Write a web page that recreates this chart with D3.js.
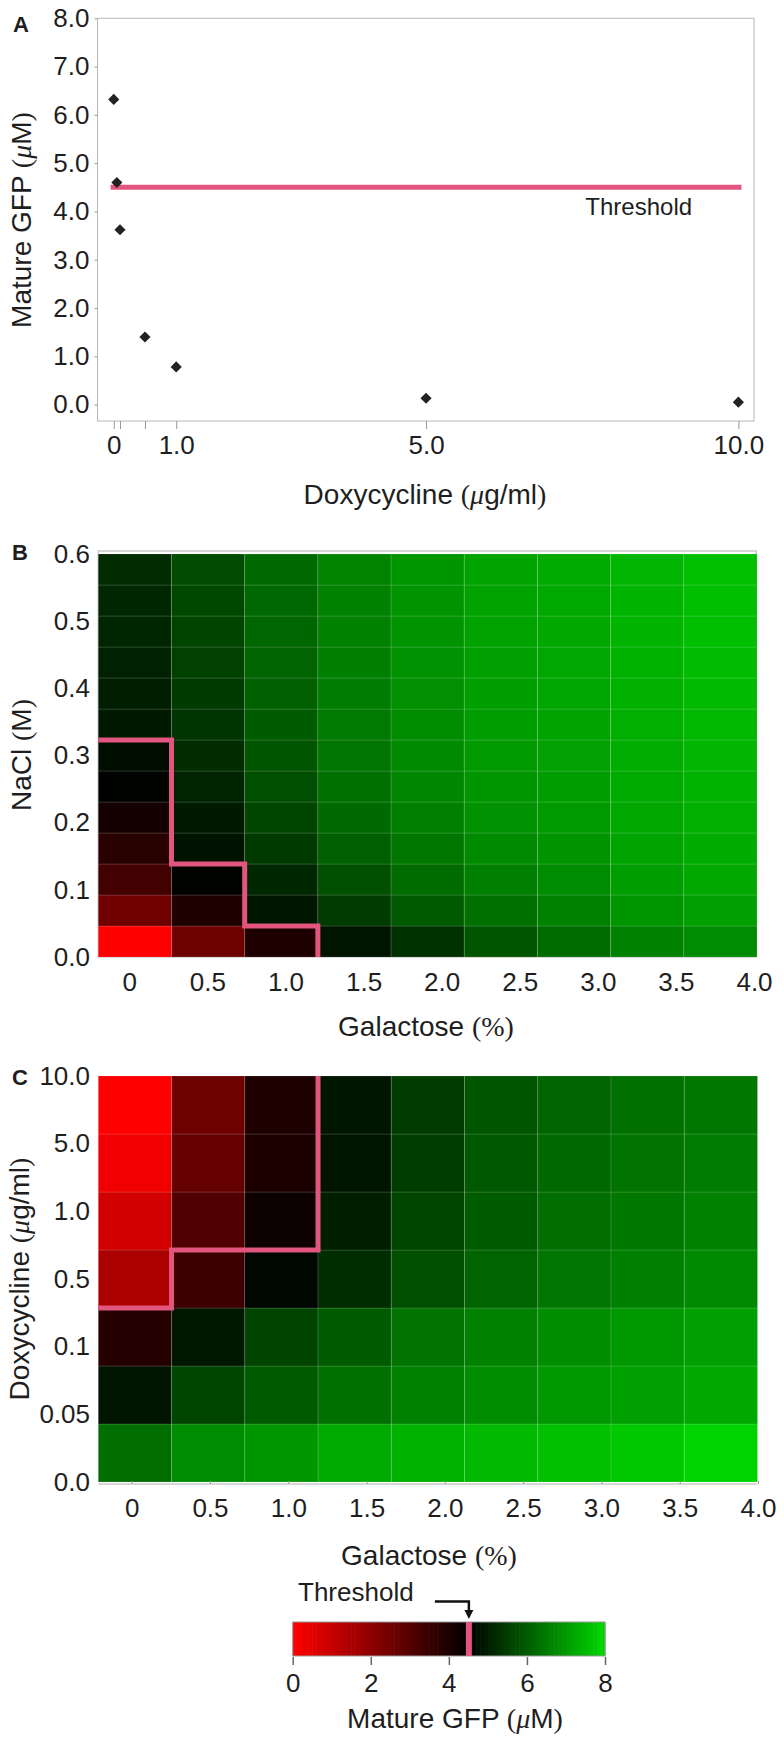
<!DOCTYPE html>
<html>
<head>
<meta charset="utf-8">
<script src="https://cdn.jsdelivr.net/npm/d3@7"></script>
<style>
body { margin: 0; background: #fff; }
svg text { font-family: "Liberation Sans", Arial, Helvetica, sans-serif; fill: #1e1e1e; }
</style>
</head>
<body>
<div id="chart"></div>
<script>
// panel A: mature GFP vs doxycycline
var doxA = [0, 0.05, 0.1, 0.5, 1.0, 5.0, 10.0];
var gfpA = [6.32, 4.60, 3.62, 1.40, 0.78, 0.13, 0.05];
var doxTicksA = [0, 0.1, 0.5, 1.0, 5.0, 10.0];
var doxLabelsA = ["0", "", "", "1.0", "5.0", "10.0"];
var gfpTicksA = [0, 1, 2, 3, 4, 5, 6, 7, 8];
var threshold = 4.5;

// panels B and C share the galactose axis
var galactose = [0, 0.5, 1.0, 1.5, 2.0, 2.5, 3.0, 3.5, 4.0];
var galLabels = ["0", "0.5", "1.0", "1.5", "2.0", "2.5", "3.0", "3.5", "4.0"];

// panel B: rows are NaCl (M), from 0.0 up to 0.6, columns are galactose
var nacl = [0, 0.05, 0.1, 0.15, 0.2, 0.25, 0.3, 0.35, 0.4, 0.45, 0.5, 0.55, 0.6];
var naclTicks = [0, 0.1, 0.2, 0.3, 0.4, 0.5, 0.6];
var gfpB = [
    [0.00, 2.56, 3.97, 4.82, 5.31, 5.88, 6.25, 6.61, 6.77],
    [2.52, 3.97, 4.86, 5.47, 5.96, 6.31, 6.61, 6.93, 7.09],
    [3.34, 4.53, 5.15, 5.80, 6.25, 6.57, 6.77, 7.06, 7.22],
    [3.79, 4.79, 5.44, 6.04, 6.44, 6.74, 6.90, 7.16, 7.29],
    [4.15, 4.92, 5.63, 6.20, 6.57, 6.87, 7.00, 7.22, 7.35],
    [4.53, 5.08, 5.76, 6.31, 6.67, 6.93, 7.06, 7.27, 7.40],
    [4.73, 5.21, 5.89, 6.41, 6.74, 7.00, 7.11, 7.30, 7.45],
    [4.92, 5.34, 5.99, 6.48, 6.80, 7.04, 7.16, 7.34, 7.48],
    [4.99, 5.44, 6.06, 6.53, 6.83, 7.08, 7.19, 7.37, 7.51],
    [5.05, 5.54, 6.12, 6.56, 6.87, 7.09, 7.21, 7.38, 7.55],
    [5.12, 5.60, 6.15, 6.59, 6.90, 7.12, 7.22, 7.42, 7.58],
    [5.15, 5.67, 6.18, 6.61, 6.91, 7.14, 7.24, 7.43, 7.59],
    [5.18, 5.73, 6.22, 6.64, 6.93, 7.16, 7.25, 7.45, 7.61]
];
// rows inside the threshold line per galactose column, counted from NaCl 0
var belowB = [7, 3, 1, 0, 0, 0, 0, 0, 0];

// panel C: rows are doxycycline (ug/ml), from 0.0 up to 10.0
var doxC = ["0.0", "0.05", "0.1", "0.5", "1.0", "5.0", "10.0"];
var gfpC = [
    [6.28, 6.77, 6.93, 7.25, 7.38, 7.50, 7.61, 7.74, 7.93],
    [4.82, 5.63, 5.96, 6.31, 6.61, 6.80, 6.96, 7.09, 7.22],
    [3.86, 4.89, 5.60, 5.96, 6.36, 6.61, 6.80, 6.96, 7.09],
    [1.50, 3.44, 4.60, 5.23, 5.80, 6.12, 6.41, 6.57, 6.74],
    [0.79, 3.09, 4.29, 4.99, 5.63, 5.99, 6.28, 6.44, 6.61],
    [0.26, 2.74, 4.01, 4.82, 5.50, 5.93, 6.20, 6.36, 6.53],
    [0.00, 2.56, 3.97, 4.86, 5.47, 5.88, 6.12, 6.31, 6.44]
];
// rows inside the threshold line per galactose column, counted from the top (10.0)
var belowC = [4, 3, 3, 0, 0, 0, 0, 0, 0];

var legendTicks = [0, 2, 4, 6, 8];

var serif = "'Liberation Serif', 'DejaVu Serif', serif";

function init(){

    var w = 784;
    var h = 1742;
    var pink = "#e2557f";

    var color = d3.scaleLinear()
                .domain([0, threshold, 8])
                .range(["#ff0000", "#000000", "#00d800"])
                .clamp(true);

    var svg = d3.select("#chart")
                .append("svg")
                .attr("width", w)
                .attr("height", h);

    svg.append("rect").attr("width", w).attr("height", h).attr("fill", "#fff");

    // axis text styling helper
    function styleAxis(g, size){
        g.attr("font-size", null).attr("font-family", null);
        g.selectAll("text").attr("font-size", size).attr("fill", "#1e1e1e");
        g.selectAll("line").attr("stroke", "#999");
    }

    // title made of pieces so the mu and brackets can use another face
    function title(x, y, rot, parts, size){
        var t = svg.append("text")
                .attr("transform", "translate(" + x + "," + y + ") rotate(" + rot + ")")
                .attr("text-anchor", "middle")
                .attr("dominant-baseline", "central")
                .attr("font-size", size);
        parts.forEach(function(p){
            var s = t.append("tspan").text(p[0]);
            if (p[1]) s.style("font-family", serif);
            if (p[2]) s.attr("font-style", "italic");
        });
    }

    function letter(txt, x, y){
        svg.append("text").attr("x", x).attr("y", y)
            .attr("dominant-baseline", "central")
            .attr("font-size", 22).attr("font-weight", "bold")
            .text(txt);
    }

    // ---------------- panel A ----------------
    var xA = d3.scaleLinear().domain([-0.26, 10.25]).range([97.5, 754]);
    var yA = d3.scaleLinear().domain([-0.34, 8]).range([421, 18.3]);

    svg.append("rect")
        .attr("x", xA.range()[0]).attr("y", yA.range()[1])
        .attr("width", xA.range()[1] - xA.range()[0])
        .attr("height", yA.range()[0] - yA.range()[1])
        .attr("fill", "none").attr("stroke", "#b8b8b8");

    svg.append("g")
        .attr("transform", "translate(" + xA.range()[0] + ",0)")
        .call(d3.axisLeft(yA).tickValues(gfpTicksA).tickFormat(d3.format(".1f")).tickSize(3).tickPadding(5))
        .call(function(g){ g.select(".domain").remove(); styleAxis(g, 26); });

    svg.append("g")
        .attr("transform", "translate(0," + yA.range()[0] + ")")
        .call(d3.axisBottom(xA).tickValues(doxTicksA).tickSize(8).tickPadding(7)
            .tickFormat(function(d, i){ return doxLabelsA[i]; }))
        .call(function(g){ g.select(".domain").remove(); styleAxis(g, 26); });

    svg.append("line")
        .attr("x1", xA(-0.05)).attr("x2", xA(10.05))
        .attr("y1", yA(threshold)).attr("y2", yA(threshold))
        .attr("stroke", pink).attr("stroke-width", 5);

    svg.append("text")
        .attr("x", xA(7.55)).attr("y", yA(threshold) + 19)
        .attr("dominant-baseline", "central")
        .attr("font-size", 24)
        .text("Threshold");

    svg.selectAll("path.pt")
        .data(doxA)
        .enter()
        .append("path")
        .attr("class", "pt")
        .attr("d", d3.symbol(d3.symbolSquare, 62))
        .attr("transform", function(d, i){
            return "translate(" + xA(d) + "," + yA(gfpA[i]) + ") rotate(45)";
        })
        .attr("fill", "#222");

    letter("A", 13, 24);
    title(21, 220, -90, [["Mature GFP "], ["(", 1], ["\u03bc", 1, 1], ["M"], [")", 1]], 28);
    title(425, 494, 0, [["Doxycycline "], ["(", 1], ["\u03bc", 1, 1], ["g/ml"], [")", 1]], 28);

    // ---------------- panel B ----------------
    var xB = d3.scaleBand().domain(galactose).range([98.3, 757]);
    var yB = d3.scaleBand().domain(nacl).range([957, 554]);
    var xLabB = d3.scaleLinear().domain([0, 4]).range([129.3, 754]);
    var yLabB = d3.scaleLinear().domain([0, 0.6]).range([957, 554]);

    svg.append("rect")
        .attr("x", 98.3).attr("y", 551)
        .attr("width", 658).attr("height", 406)
        .attr("fill", "none").attr("stroke", "#c8c8c8").attr("stroke-width", 1.5);

    var cellsB = [];
    gfpB.forEach(function(row, r){
        row.forEach(function(v, c){ cellsB.push({ n: nacl[r], g: galactose[c], v: v }); });
    });

    svg.append("g").selectAll("rect")
        .data(cellsB)
        .enter()
        .append("rect")
        .attr("x", function(d){ return xB(d.g); })
        .attr("y", function(d){ return yB(d.n); })
        .attr("width", xB.bandwidth())
        .attr("height", yB.bandwidth())
        .attr("fill", function(d){ return color(d.v); })
        .attr("stroke", "rgba(255,255,255,0.13)")
        .attr("stroke-width", 1);

    // threshold contour B (steps down the columns)
    var bottomB = yB.range()[0];
    function yStepB(k){ return bottomB - k * yB.step(); }
    var pathB = d3.path();
    pathB.moveTo(xB.range()[0], yStepB(belowB[0]));
    for (var i = 0; i < belowB.length && belowB[i] > 0; i++) {
        var xr = xB(galactose[i]) + xB.bandwidth();
        pathB.lineTo(xr, yStepB(belowB[i]));
        pathB.lineTo(xr, yStepB(belowB[i + 1] || 0));
    }
    svg.append("path").attr("d", pathB.toString())
        .attr("fill", "none").attr("stroke", pink).attr("stroke-width", 5);

    svg.append("g")
        .attr("transform", "translate(98,0)")
        .call(d3.axisLeft(yLabB).tickValues(naclTicks).tickFormat(d3.format(".1f")).tickSize(0).tickPadding(8))
        .call(function(g){ g.select(".domain").remove(); styleAxis(g, 26); });

    svg.append("g")
        .attr("transform", "translate(0,957)")
        .call(d3.axisBottom(xLabB).tickValues(galactose).tickSize(0).tickPadding(16)
            .tickFormat(function(d, i){ return galLabels[i]; }))
        .call(function(g){ g.select(".domain").remove(); styleAxis(g, 26); });

    letter("B", 12, 552);
    title(21, 755, -90, [["NaCl "], ["(", 1], ["M"], [")", 1]], 28);
    title(426, 1026, 0, [["Galactose "], ["(%)", 1]], 28);

    // ---------------- panel C ----------------
    var xC = d3.scaleBand().domain(galactose).range([98.3, 757.5]);
    var yC = d3.scaleBand().domain(doxC).range([1482, 1076]);
    var xLabC = d3.scaleLinear().domain([0, 4]).range([131.7, 758]);
    var yLabC = d3.scalePoint().domain(doxC).range([1482, 1076]);

    var cellsC = [];
    gfpC.forEach(function(row, r){
        row.forEach(function(v, c){ cellsC.push({ d: doxC[r], g: galactose[c], v: v }); });
    });

    svg.append("g").selectAll("rect")
        .data(cellsC)
        .enter()
        .append("rect")
        .attr("x", function(d){ return xC(d.g); })
        .attr("y", function(d){ return yC(d.d); })
        .attr("width", xC.bandwidth())
        .attr("height", yC.bandwidth())
        .attr("fill", function(d){ return color(d.v); })
        .attr("stroke", "rgba(255,255,255,0.13)")
        .attr("stroke-width", 1);

    // threshold contour C (hangs from the top edge)
    var topC = yC.range()[1];
    function yStepC(k){ return topC + k * yC.step(); }
    var pathC = d3.path();
    pathC.moveTo(xC.range()[0], yStepC(belowC[0]));
    for (var j = 0; j < belowC.length && belowC[j] > 0; j++) {
        var xr2 = xC(galactose[j]) + xC.bandwidth();
        pathC.lineTo(xr2, yStepC(belowC[j]));
        pathC.lineTo(xr2, yStepC(belowC[j + 1] || 0));
    }
    svg.append("path").attr("d", pathC.toString())
        .attr("fill", "none").attr("stroke", pink).attr("stroke-width", 5);

    svg.append("line")
        .attr("x1", xC.range()[0]).attr("x2", xC.range()[1])
        .attr("y1", 1484).attr("y2", 1484)
        .attr("stroke", "#c8c8c8").attr("stroke-width", 1.5);

    svg.append("g")
        .attr("transform", "translate(98,0)")
        .call(d3.axisLeft(yLabC).tickSize(0).tickPadding(8))
        .call(function(g){ g.select(".domain").remove(); styleAxis(g, 26); });

    svg.append("g")
        .attr("transform", "translate(0,1484)")
        .call(d3.axisBottom(xLabC).tickValues(galactose).tickSize(-3).tickPadding(15)
            .tickFormat(function(d, i){ return galLabels[i]; }))
        .call(function(g){ g.select(".domain").remove(); styleAxis(g, 26); });

    letter("C", 12, 1077);
    title(19, 1279, -90, [["Doxycycline "], ["(", 1], ["\u03bc", 1, 1], ["g/ml"], [")", 1]], 28);
    title(429, 1555, 0, [["Galactose "], ["(%)", 1]], 28);

    // ---------------- colour bar ----------------
    var xLeg = d3.scaleLinear().domain([0, 8]).range([292.7, 605]);
    var stripes = d3.range(0, 8, 0.1);

    svg.append("g").selectAll("rect")
        .data(stripes)
        .enter()
        .append("rect")
        .attr("x", function(d){ return xLeg(d); })
        .attr("y", 1622)
        .attr("width", xLeg(0.1) - xLeg(0) + 0.6)
        .attr("height", 34)
        .attr("fill", function(d){ return color(d + 0.05); });

    svg.append("rect")
        .attr("x", xLeg(0)).attr("y", 1622)
        .attr("width", xLeg(8) - xLeg(0)).attr("height", 34)
        .attr("fill", "none").attr("stroke", "#999").attr("stroke-width", 1);

    svg.append("rect")
        .attr("x", xLeg(threshold) - 2.5).attr("y", 1622)
        .attr("width", 6).attr("height", 34)
        .attr("fill", pink);

    svg.append("g")
        .attr("transform", "translate(0,1657)")
        .call(d3.axisBottom(xLeg).tickValues(legendTicks).tickSize(8).tickPadding(9))
        .call(function(g){
            g.select(".domain").remove();
            styleAxis(g, 26);
            g.selectAll("line").attr("stroke", "#666").attr("stroke-width", 1.5);
        });

    svg.append("text")
        .attr("x", 298).attr("y", 1592)
        .attr("dominant-baseline", "central")
        .attr("font-size", 26)
        .text("Threshold");

    var ax = xLeg(threshold) + 0.5;
    svg.append("path")
        .attr("d", "M" + (ax - 34) + ",1601.5H" + ax + "V1611")
        .attr("fill", "none").attr("stroke", "#111").attr("stroke-width", 2.5);
    svg.append("path")
        .attr("d", "M" + (ax - 4.5) + ",1610L" + (ax + 4.5) + ",1610L" + ax + ",1619Z")
        .attr("fill", "#111");

    title(455, 1718, 0, [["Mature GFP "], ["(", 1], ["\u03bc", 1, 1], ["M"], [")", 1]], 28);
}

window.onload = init;
</script>
</body>
</html>
